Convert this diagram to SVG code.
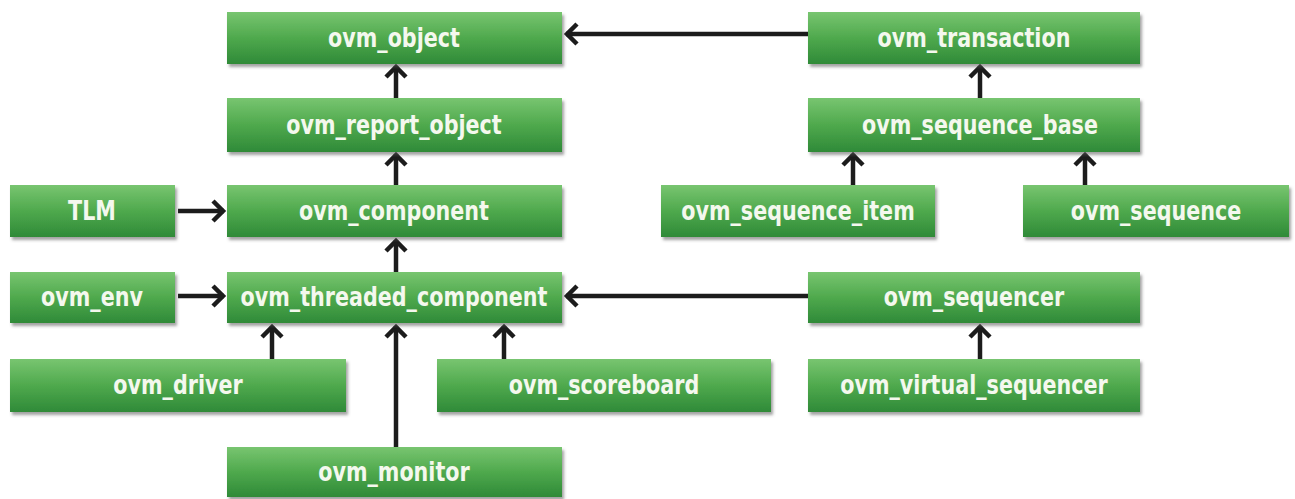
<svg xmlns="http://www.w3.org/2000/svg" width="1295" height="499" viewBox="0 0 1295 499">
<defs>
<linearGradient id="g" x1="0" y1="0" x2="0" y2="1">
<stop offset="0" stop-color="#78c570"/>
<stop offset="0.5" stop-color="#4fa94d"/>
<stop offset="1" stop-color="#2f8a38"/>
</linearGradient>
<filter id="sh" x="-5%" y="-10%" width="112%" height="130%">
<feDropShadow dx="2" dy="3" stdDeviation="1.5" flood-color="#555" flood-opacity="0.55"/>
</filter>
<marker id="ah" markerUnits="userSpaceOnUse" markerWidth="30" markerHeight="30" viewBox="-16 -15 20 30" refX="0" refY="0" orient="auto">
<path d="M -11,-10 L -1,0 L -11,10" fill="none" stroke="#1c1c1c" stroke-width="4.5" stroke-linejoin="miter"/>
</marker>
</defs>
<style>
.box{fill:url(#g);filter:url(#sh)}
.t{font-family:"DejaVu Sans Condensed","DejaVu Sans",sans-serif;font-stretch:condensed;font-weight:bold;font-size:23px;fill:#f4f8ee;text-anchor:middle;transform-box:fill-box;transform-origin:center;transform:scaleY(1.18)}
.c{stroke:#1c1c1c;stroke-width:4.5;fill:none;marker-end:url(#ah)}
</style>
<g id="connectors">
<line class="c" x1="808" y1="34" x2="566" y2="34"/>
<line class="c" x1="396" y1="98" x2="396" y2="66"/>
<line class="c" x1="396" y1="185" x2="396" y2="154"/>
<line class="c" x1="396" y1="272" x2="396" y2="240"/>
<line class="c" x1="396" y1="447" x2="396" y2="326"/>
<line class="c" x1="178" y1="211" x2="224" y2="211"/>
<line class="c" x1="178" y1="296" x2="224" y2="296"/>
<line class="c" x1="808" y1="296" x2="566" y2="296"/>
<line class="c" x1="272" y1="359" x2="272" y2="326"/>
<line class="c" x1="504" y1="359" x2="504" y2="326"/>
<line class="c" x1="980" y1="98" x2="980" y2="66"/>
<line class="c" x1="853" y1="185" x2="853" y2="154"/>
<line class="c" x1="1085" y1="185" x2="1085" y2="154"/>
<line class="c" x1="980" y1="359" x2="980" y2="326"/>
</g>
<g id="ovm_object"><rect class="box" x="227" y="12" width="335" height="52"/><text class="t" x="394" y="46">ovm_object</text></g>
<g id="ovm_report_object"><rect class="box" x="227" y="98" width="335" height="54"/><text class="t" x="394" y="133">ovm_report_object</text></g>
<g id="TLM"><rect class="box" x="10" y="185" width="165" height="52"/><text class="t" x="92" y="219">TLM</text></g>
<g id="ovm_component"><rect class="box" x="227" y="185" width="335" height="52"/><text class="t" x="394" y="219">ovm_component</text></g>
<g id="ovm_env"><rect class="box" x="10" y="272" width="165" height="51"/><text class="t" x="92" y="305">ovm_env</text></g>
<g id="ovm_threaded_component"><rect class="box" x="227" y="272" width="335" height="51"/><text class="t" x="394" y="305">ovm_threaded_component</text></g>
<g id="ovm_driver"><rect class="box" x="10" y="359" width="336" height="53"/><text class="t" x="178" y="393">ovm_driver</text></g>
<g id="ovm_scoreboard"><rect class="box" x="437" y="359" width="334" height="53"/><text class="t" x="604" y="393">ovm_scoreboard</text></g>
<g id="ovm_monitor"><rect class="box" x="227" y="447" width="335" height="50"/><text class="t" x="394" y="480">ovm_monitor</text></g>
<g id="ovm_transaction"><rect class="box" x="808" y="12" width="332" height="52"/><text class="t" x="974" y="46">ovm_transaction</text></g>
<g id="ovm_sequence_base"><rect class="box" x="808" y="98" width="332" height="54"/><text class="t" x="980" y="133">ovm_sequence_base</text></g>
<g id="ovm_sequence_item"><rect class="box" x="661" y="185" width="274" height="52"/><text class="t" x="798" y="219">ovm_sequence_item</text></g>
<g id="ovm_sequence"><rect class="box" x="1023" y="185" width="266" height="52"/><text class="t" x="1156" y="219">ovm_sequence</text></g>
<g id="ovm_sequencer"><rect class="box" x="808" y="272" width="332" height="51"/><text class="t" x="974" y="305">ovm_sequencer</text></g>
<g id="ovm_virtual_sequencer"><rect class="box" x="808" y="359" width="332" height="53"/><text class="t" x="974" y="393">ovm_virtual_sequencer</text></g>
</svg>
